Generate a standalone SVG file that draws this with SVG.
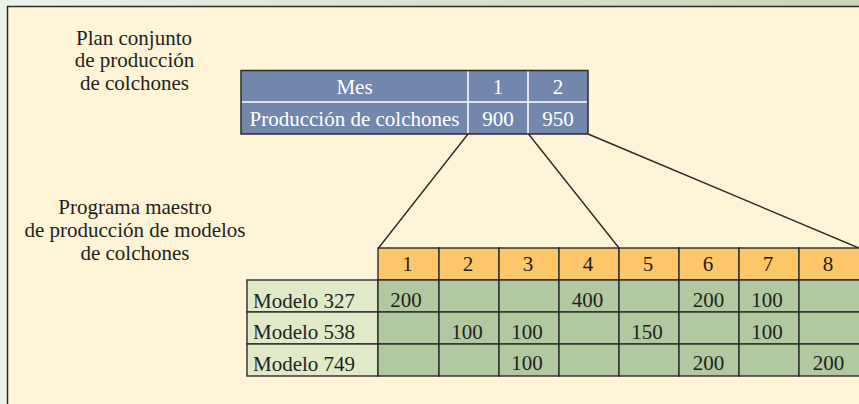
<svg xmlns="http://www.w3.org/2000/svg" width="859" height="404" viewBox="0 0 859 404">
<defs>
<linearGradient id="topband" x1="0" y1="0" x2="1" y2="0">
<stop offset="0" stop-color="#eef1ea"/>
<stop offset="1" stop-color="#c4d6b4"/>
</linearGradient>
<style>
text{font-family:"Liberation Serif","Times New Roman",serif;font-size:21px;fill:#231f20}
.c{text-anchor:middle}
.w{fill:#ffffff}
.blue{fill:#7387ac}
.hdr{fill:#fdc66a;stroke:#2b2b2b;stroke-width:1.4}
.dat{fill:#b2c8a1;stroke:#2b2b2b;stroke-width:1.4}
.lab{fill:#e0e9c8;stroke:#2b2b2b;stroke-width:1.4}
.wl{stroke:#ffffff;stroke-width:1.5;fill:none}
.conn{stroke:#2b2b2b;stroke-width:1.4;fill:none}
</style>
</defs>
<rect x="0" y="0" width="859" height="404" fill="#eef1ea"/>
<rect x="0" y="0" width="859" height="7" fill="url(#topband)"/>
<rect x="8" y="7" width="851" height="397" fill="#fef5d8"/>
<line x1="7.5" y1="6" x2="7.5" y2="404" stroke="#2b2b2b" stroke-width="1.5"/>
<line x1="7" y1="6.5" x2="859" y2="6.5" stroke="#2b2b2b" stroke-width="1.5"/>

<g id="label-plan">
<text class="c" x="134" y="44.5">Plan conjunto</text>
<text class="c" x="134.5" y="67">de producción</text>
<text class="c" x="134.5" y="89.5">de colchones</text>
</g>

<g id="label-programa">
<text class="c" x="135" y="213.5">Programa maestro</text>
<text class="c" x="135" y="237">de producción de modelos</text>
<text class="c" x="135" y="260">de colchones</text>
</g>

<g id="connectors">
<line class="conn" x1="468" y1="134" x2="378.5" y2="248"/>
<line class="conn" x1="528.5" y1="134" x2="619" y2="248"/>
<line class="conn" x1="588" y1="134" x2="859" y2="248"/>
</g>

<g id="plan-table">
<rect class="blue" x="241" y="70.5" width="347" height="63.5" stroke="#2b2b2b" stroke-width="1.5"/>
<line class="wl" x1="242" y1="102" x2="587" y2="102"/>
<line class="wl" x1="468" y1="71.5" x2="468" y2="133"/>
<line class="wl" x1="528" y1="71.5" x2="528" y2="133"/>
<text class="c w" x="354.5" y="94">Mes</text>
<text class="c w" x="498" y="94">1</text>
<text class="c w" x="558" y="94">2</text>
<text class="c w" x="354.5" y="126">Producción de colchones</text>
<text class="c w" x="498" y="126">900</text>
<text class="c w" x="558" y="126">950</text>
</g>

<g id="mps-grid">
<g id="header">
<rect class="hdr" x="378" y="248" width="61" height="32"/>
<rect class="hdr" x="439" y="248" width="60" height="32"/>
<rect class="hdr" x="499" y="248" width="60" height="32"/>
<rect class="hdr" x="559" y="248" width="60" height="32"/>
<rect class="hdr" x="619" y="248" width="60" height="32"/>
<rect class="hdr" x="679" y="248" width="60" height="32"/>
<rect class="hdr" x="739" y="248" width="60" height="32"/>
<rect class="hdr" x="799" y="248" width="61" height="32"/>
<text class="c" x="407.5" y="271">1</text>
<text class="c" x="468" y="271">2</text>
<text class="c" x="528" y="271">3</text>
<text class="c" x="588" y="271">4</text>
<text class="c" x="648" y="271">5</text>
<text class="c" x="708" y="271">6</text>
<text class="c" x="768" y="271">7</text>
<text class="c" x="828" y="271">8</text>
</g>
<g id="labels">
<rect class="lab" x="247" y="280" width="131" height="32"/>
<rect class="lab" x="247" y="312" width="131" height="32"/>
<rect class="lab" x="247" y="344" width="131" height="32"/>
<text x="253" y="307.5">Modelo 327</text>
<text x="253" y="339">Modelo 538</text>
<text x="253" y="370.5">Modelo 749</text>
</g>
<g id="cells">
<rect class="dat" x="378" y="280" width="61" height="32"/>
<rect class="dat" x="439" y="280" width="60" height="32"/>
<rect class="dat" x="499" y="280" width="60" height="32"/>
<rect class="dat" x="559" y="280" width="60" height="32"/>
<rect class="dat" x="619" y="280" width="60" height="32"/>
<rect class="dat" x="679" y="280" width="60" height="32"/>
<rect class="dat" x="739" y="280" width="60" height="32"/>
<rect class="dat" x="799" y="280" width="61" height="32"/>
<rect class="dat" x="378" y="312" width="61" height="32"/>
<rect class="dat" x="439" y="312" width="60" height="32"/>
<rect class="dat" x="499" y="312" width="60" height="32"/>
<rect class="dat" x="559" y="312" width="60" height="32"/>
<rect class="dat" x="619" y="312" width="60" height="32"/>
<rect class="dat" x="679" y="312" width="60" height="32"/>
<rect class="dat" x="739" y="312" width="60" height="32"/>
<rect class="dat" x="799" y="312" width="61" height="32"/>
<rect class="dat" x="378" y="344" width="61" height="32"/>
<rect class="dat" x="439" y="344" width="60" height="32"/>
<rect class="dat" x="499" y="344" width="60" height="32"/>
<rect class="dat" x="559" y="344" width="60" height="32"/>
<rect class="dat" x="619" y="344" width="60" height="32"/>
<rect class="dat" x="679" y="344" width="60" height="32"/>
<rect class="dat" x="739" y="344" width="60" height="32"/>
<rect class="dat" x="799" y="344" width="61" height="32"/>
<text class="c" x="406" y="307">200</text>
<text class="c" x="587.5" y="307">400</text>
<text class="c" x="708.5" y="307">200</text>
<text class="c" x="767" y="307">100</text>
<text class="c" x="467" y="339">100</text>
<text class="c" x="527" y="339">100</text>
<text class="c" x="647" y="339">150</text>
<text class="c" x="767" y="339">100</text>
<text class="c" x="527" y="370">100</text>
<text class="c" x="708.5" y="370">200</text>
<text class="c" x="828.5" y="370">200</text>
</g>
</g>
</svg>
